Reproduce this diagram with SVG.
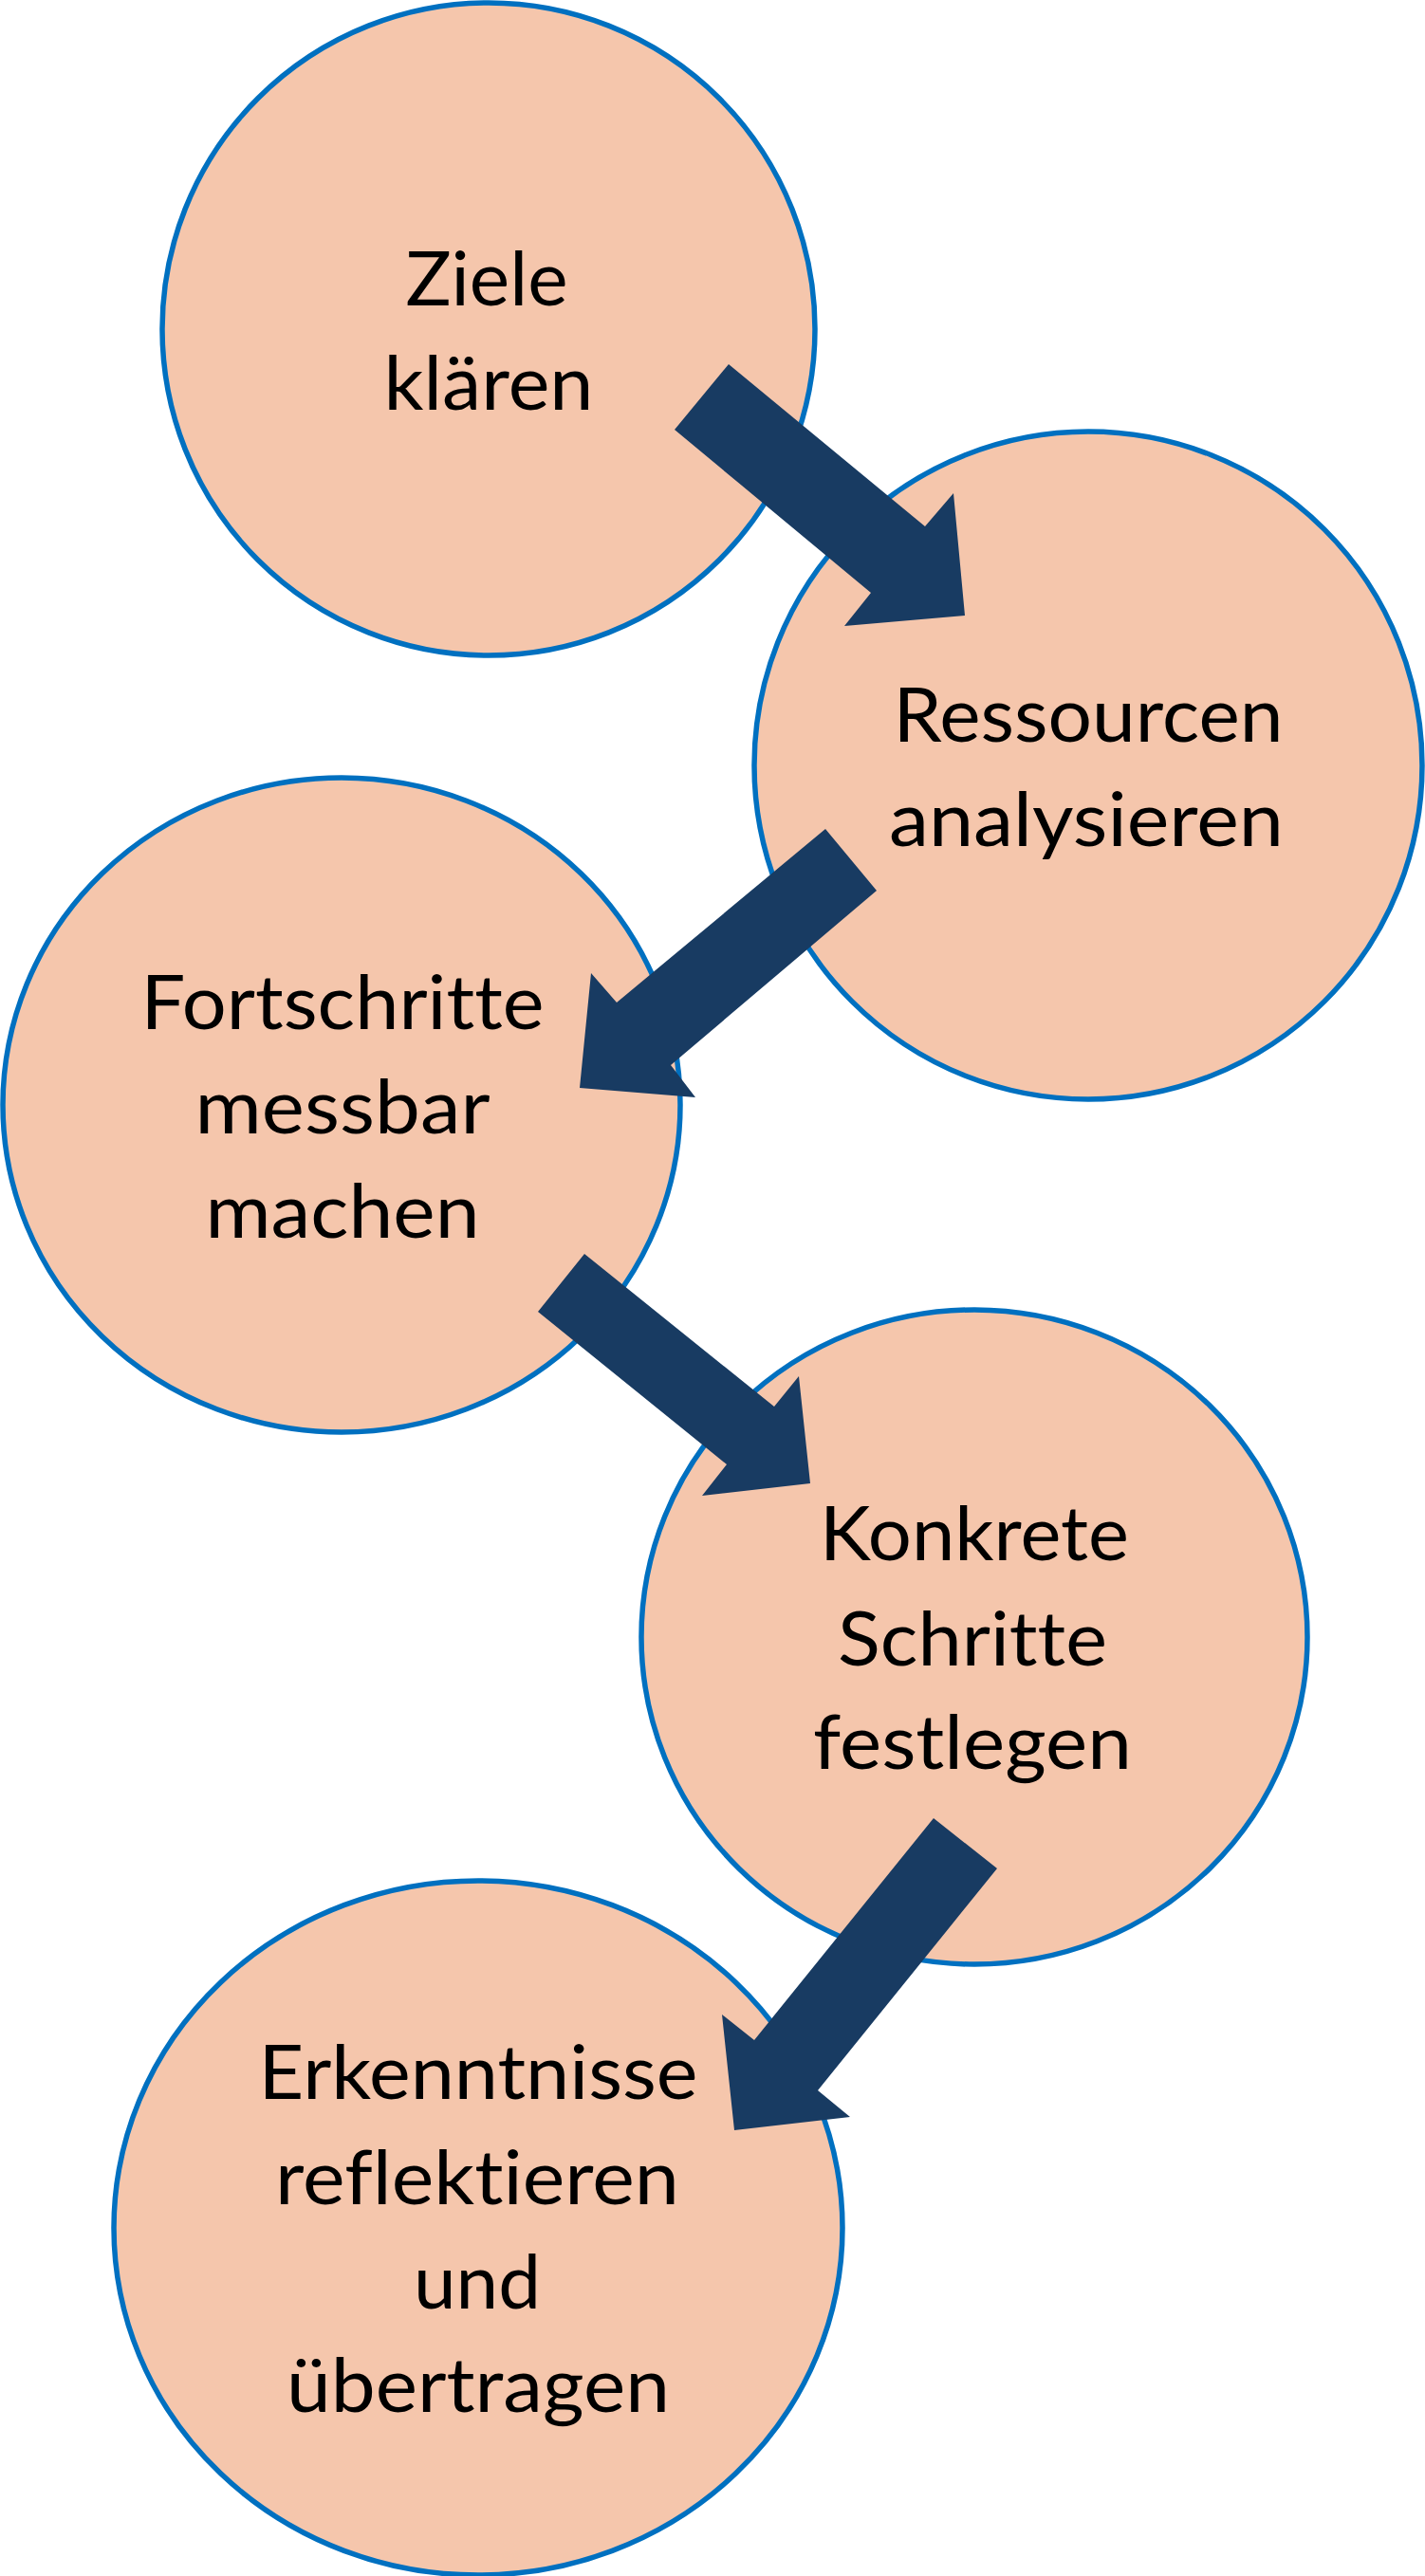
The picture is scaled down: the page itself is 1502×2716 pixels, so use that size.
<svg xmlns="http://www.w3.org/2000/svg" width="1502" height="2716" viewBox="0 0 1502 2716">
<style>
.node{fill:#F5C6AC;stroke:#0070C0;stroke-width:5.5}
.lbl{font-family:Lato,"Open Sans","Liberation Sans",sans-serif;font-size:80px;fill:#000;text-anchor:middle;font-variant-ligatures:none;font-feature-settings:"liga" 0,"clig" 0,"dlig" 0}
.arr{fill:#183B62}
</style>
<rect width="1502" height="2716" fill="#fff"/>
<g id="n1">
<ellipse class="node" cx="515" cy="347" rx="344" ry="344"/>
<text class="lbl"><tspan x="513" y="322" textLength="171" lengthAdjust="spacingAndGlyphs">Ziele</tspan><tspan x="515" y="432" textLength="221" lengthAdjust="spacingAndGlyphs">klären</tspan></text>
</g>
<g id="n2">
<ellipse class="node" cx="1147" cy="807" rx="352" ry="352"/>
<text class="lbl"><tspan x="1147" y="782" textLength="411" lengthAdjust="spacingAndGlyphs">Ressourcen</tspan><tspan x="1145" y="892" textLength="416" lengthAdjust="spacingAndGlyphs">analysieren</tspan></text>
</g>
<g id="n3">
<ellipse class="node" cx="360" cy="1165" rx="357" ry="345"/>
<text class="lbl"><tspan x="361" y="1085" textLength="425" lengthAdjust="spacingAndGlyphs">Fortschritte</tspan><tspan x="361" y="1195" textLength="311" lengthAdjust="spacingAndGlyphs">messbar</tspan><tspan x="361" y="1305" textLength="289" lengthAdjust="spacingAndGlyphs">machen</tspan></text>
</g>
<g id="n4">
<ellipse class="node" cx="1027" cy="1726" rx="351" ry="345"/>
<text class="lbl"><tspan x="1027" y="1645" textLength="326" lengthAdjust="spacingAndGlyphs">Konkrete</tspan><tspan x="1025" y="1756" textLength="284" lengthAdjust="spacingAndGlyphs">Schritte</tspan><tspan x="1025" y="1865" textLength="336" lengthAdjust="spacingAndGlyphs">festlegen</tspan></text>
</g>
<g id="n5">
<ellipse class="node" cx="504" cy="2349" rx="384" ry="366"/>
<text class="lbl"><tspan x="504" y="2213" textLength="463" lengthAdjust="spacingAndGlyphs">Erkenntnisse</tspan><tspan x="503" y="2324" textLength="426" lengthAdjust="spacingAndGlyphs">reflektieren</tspan><tspan x="503" y="2434" textLength="134" lengthAdjust="spacingAndGlyphs">und</tspan><tspan x="504" y="2543" textLength="404" lengthAdjust="spacingAndGlyphs">übertragen</tspan></text>
</g>
<g id="connectors">
<polygon class="arr" points="711,453 768,384 975,555 1005,520 1017,649 890,660 918,625"/>
<polygon class="arr" points="870,874 924,939 707,1123 733,1157 611,1147 623,1026 650,1057"/>
<polygon class="arr" points="616,1322 816,1483 842,1451 854,1564 740,1577 766,1544 567,1383"/>
<polygon class="arr" points="984,1917 1051,1970 862,2204 896,2232 774,2246 761,2124 795,2151"/>
</g>
</svg>
